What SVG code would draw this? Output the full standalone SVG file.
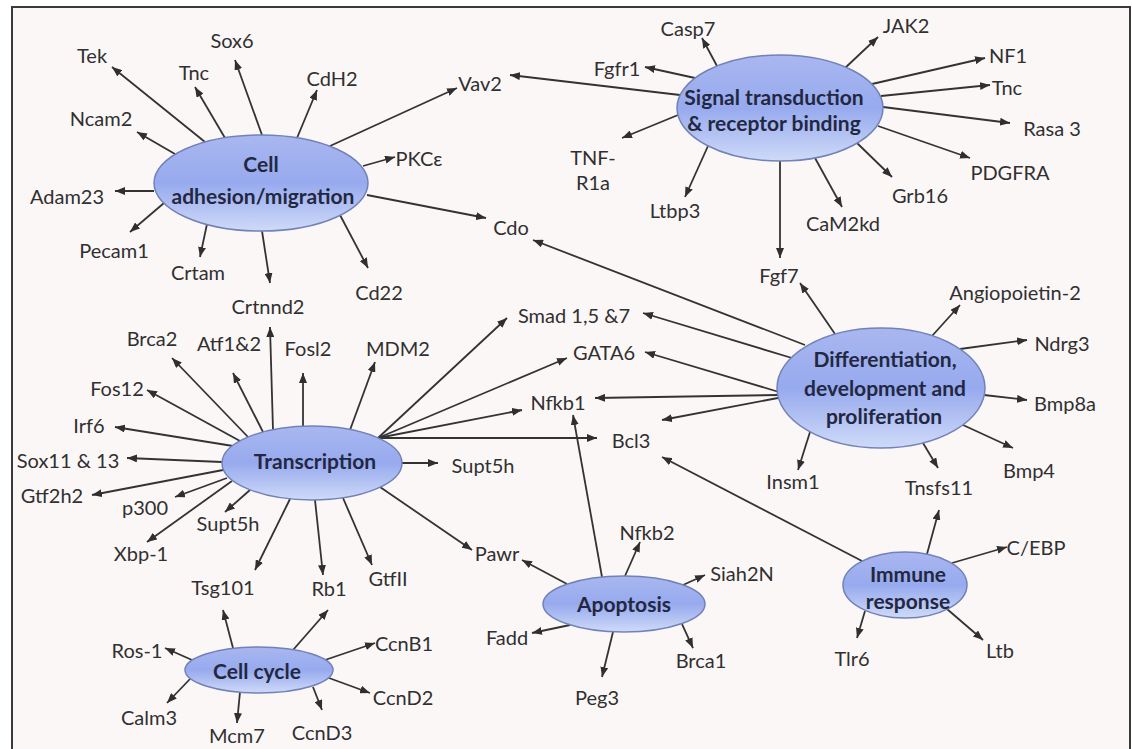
<svg xmlns="http://www.w3.org/2000/svg" width="1132" height="749" viewBox="0 0 1132 749">
<defs>
<linearGradient id="eg" x1="0" y1="0" x2="0" y2="1">
<stop offset="0" stop-color="#a9b7f0"/>
<stop offset="0.5" stop-color="#97aaee"/>
<stop offset="1" stop-color="#cfdaf8"/>
</linearGradient>
<marker id="ah" viewBox="0 0 10 8" refX="10" refY="4" markerWidth="10" markerHeight="8" markerUnits="userSpaceOnUse" orient="auto">
<path d="M0,0 L10,4 L0,8 z" fill="#2f2f2f"/>
</marker>
<style>
.e{fill:url(#eg);stroke:#7282b8;stroke-width:1.5}
.t{font-family:Lato,"Liberation Sans",sans-serif;font-size:20px;fill:#303030;text-anchor:middle;dominant-baseline:central}
.b{font-family:Lato,"Liberation Sans",sans-serif;font-size:21px;font-weight:bold;fill:#232842;text-anchor:middle;dominant-baseline:central}
#conn line{stroke:#333;stroke-width:1.8;marker-end:url(#ah)}
</style>
</defs>
<rect x="0" y="0" width="1132" height="749" fill="#ffffff"/>
<rect x="12" y="7" width="1118" height="760" fill="#fcf7f7" stroke="#3a3a3a" stroke-width="2"/>

<g id="conn">
<!-- Cell adhesion -->
<line x1="205" y1="142" x2="112" y2="67"/>
<line x1="225" y1="138" x2="195" y2="87"/>
<line x1="262" y1="135" x2="235" y2="60"/>
<line x1="297" y1="138" x2="317" y2="90"/>
<line x1="330" y1="146" x2="457" y2="88"/>
<line x1="363" y1="166" x2="395" y2="157"/>
<line x1="175" y1="154" x2="137" y2="132"/>
<line x1="154" y1="191" x2="115" y2="191"/>
<line x1="164" y1="203" x2="130" y2="232"/>
<line x1="207" y1="224" x2="200" y2="257"/>
<line x1="262" y1="231" x2="270" y2="283"/>
<line x1="340" y1="215" x2="368" y2="268"/>
<line x1="367" y1="195" x2="486" y2="218"/>
<!-- Signal transduction -->
<line x1="717" y1="66" x2="702" y2="38"/>
<line x1="695" y1="78" x2="645" y2="67"/>
<line x1="680" y1="95" x2="510" y2="75"/>
<line x1="678" y1="115" x2="622" y2="138"/>
<line x1="708" y1="146" x2="685" y2="197"/>
<line x1="780" y1="161" x2="780" y2="258"/>
<line x1="845" y1="68" x2="878" y2="37"/>
<line x1="872" y1="84" x2="985" y2="58"/>
<line x1="881" y1="96" x2="990" y2="85"/>
<line x1="883" y1="107" x2="1010" y2="123"/>
<line x1="878" y1="126" x2="970" y2="158"/>
<line x1="857" y1="143" x2="892" y2="177"/>
<line x1="815" y1="158" x2="842" y2="207"/>
<!-- Differentiation -->
<line x1="835" y1="334" x2="800" y2="283"/>
<line x1="932" y1="336" x2="960" y2="305"/>
<line x1="960" y1="349" x2="1027" y2="340"/>
<line x1="984" y1="395" x2="1027" y2="400"/>
<line x1="963" y1="425" x2="1013" y2="448"/>
<line x1="810" y1="432" x2="798" y2="470"/>
<line x1="923" y1="443" x2="938" y2="468"/>
<line x1="805" y1="345" x2="533" y2="240"/>
<line x1="792" y1="358" x2="643" y2="313"/>
<line x1="779" y1="392" x2="645" y2="352"/>
<line x1="778" y1="395" x2="595" y2="398"/>
<line x1="778" y1="398" x2="662" y2="420"/>
<!-- Transcription -->
<line x1="273" y1="430" x2="270" y2="327"/>
<line x1="248" y1="437" x2="172" y2="358"/>
<line x1="263" y1="432" x2="233" y2="373"/>
<line x1="303" y1="427" x2="303" y2="373"/>
<line x1="350" y1="430" x2="375" y2="362"/>
<line x1="240" y1="441" x2="147" y2="390"/>
<line x1="233" y1="446" x2="115" y2="427"/>
<line x1="222" y1="462" x2="127" y2="458"/>
<line x1="223" y1="470" x2="92" y2="495"/>
<line x1="227" y1="478" x2="175" y2="497"/>
<line x1="232" y1="481" x2="147" y2="542"/>
<line x1="250" y1="490" x2="225" y2="512"/>
<line x1="290" y1="499" x2="255" y2="570"/>
<line x1="315" y1="500" x2="323" y2="575"/>
<line x1="343" y1="498" x2="372" y2="565"/>
<line x1="380" y1="487" x2="472" y2="550"/>
<line x1="402" y1="463" x2="438" y2="463"/>
<line x1="378" y1="438" x2="597" y2="438"/>
<line x1="378" y1="438" x2="522" y2="410"/>
<line x1="378" y1="438" x2="567" y2="358"/>
<line x1="378" y1="438" x2="507" y2="318"/>
<!-- Cell cycle -->
<line x1="233" y1="648" x2="223" y2="610"/>
<line x1="293" y1="650" x2="328" y2="610"/>
<line x1="192" y1="660" x2="165" y2="648"/>
<line x1="325" y1="660" x2="375" y2="643"/>
<line x1="329" y1="678" x2="370" y2="693"/>
<line x1="313" y1="687" x2="322" y2="710"/>
<line x1="240" y1="692" x2="237" y2="723"/>
<line x1="190" y1="679" x2="167" y2="703"/>
<!-- Apoptosis -->
<line x1="602" y1="577" x2="573" y2="415"/>
<line x1="625" y1="576" x2="640" y2="542"/>
<line x1="683" y1="585" x2="705" y2="575"/>
<line x1="567" y1="584" x2="522" y2="560"/>
<line x1="570" y1="625" x2="532" y2="633"/>
<line x1="613" y1="632" x2="602" y2="677"/>
<line x1="682" y1="624" x2="693" y2="648"/>
<!-- Immune -->
<line x1="862" y1="561" x2="662" y2="457"/>
<line x1="927" y1="554" x2="939" y2="510"/>
<line x1="952" y1="563" x2="1007" y2="547"/>
<line x1="865" y1="611" x2="857" y2="638"/>
<line x1="947" y1="609" x2="983" y2="640"/>
</g>

<g id="n-celladhesion"><ellipse class="e" cx="261" cy="183" rx="107" ry="48"/><text class="b" x="261" y="163">Cell</text><text class="b" x="263" y="195">adhesion/migration</text></g>
<g id="n-signal"><ellipse class="e" cx="780" cy="108" rx="103" ry="53"/><text class="b" x="774" y="96">Signal transduction</text><text class="b" x="774" y="122">&amp; receptor binding</text></g>
<g id="n-diff"><ellipse class="e" cx="881" cy="388" rx="104" ry="60"/><text class="b" x="885" y="358">Differentiation,</text><text class="b" x="885" y="387">development and</text><text class="b" x="884" y="415">proliferation</text></g>
<g id="n-transcription"><ellipse class="e" cx="312" cy="463" rx="90" ry="37"/><text class="b" x="315" y="460">Transcription</text></g>
<g id="n-cellcycle"><ellipse class="e" cx="259" cy="670" rx="74" ry="23"/><text class="b" x="257" y="670">Cell cycle</text></g>
<g id="n-apoptosis"><ellipse class="e" cx="624" cy="604" rx="81" ry="28"/><text class="b" x="624" y="603">Apoptosis</text></g>
<g id="n-immune"><ellipse class="e" cx="905" cy="585" rx="62" ry="33"/><text class="b" x="908" y="573">Immune</text><text class="b" x="908" y="600">response</text></g>

<g id="n-tek"><text class="t" x="92" y="55">Tek</text></g>
<g id="n-sox6"><text class="t" x="232" y="40">Sox6</text></g>
<g id="n-tnc1"><text class="t" x="194" y="72">Tnc</text></g>
<g id="n-cdh2"><text class="t" x="332" y="78">CdH2</text></g>
<g id="n-ncam2"><text class="t" x="101" y="118">Ncam2</text></g>
<g id="n-adam23"><text class="t" x="67" y="196">Adam23</text></g>
<g id="n-pecam1"><text class="t" x="114" y="250">Pecam1</text></g>
<g id="n-pkce"><text class="t" x="419" y="158">PKCε</text></g>
<g id="n-vav2"><text class="t" x="480" y="83">Vav2</text></g>
<g id="n-cdo"><text class="t" x="511" y="227">Cdo</text></g>
<g id="n-crtam"><text class="t" x="198" y="272">Crtam</text></g>
<g id="n-crtnnd2"><text class="t" x="268" y="306">Crtnnd2</text></g>
<g id="n-cd22"><text class="t" x="379" y="292">Cd22</text></g>

<g id="n-casp7"><text class="t" x="688" y="28">Casp7</text></g>
<g id="n-fgfr1"><text class="t" x="617" y="68">Fgfr1</text></g>
<g id="n-tnfr1a"><text class="t" x="593" y="157">TNF-</text><text class="t" x="593" y="182">R1a</text></g>
<g id="n-ltbp3"><text class="t" x="675" y="210">Ltbp3</text></g>
<g id="n-fgf7"><text class="t" x="779" y="275">Fgf7</text></g>
<g id="n-jak2"><text class="t" x="906" y="25">JAK2</text></g>
<g id="n-nf1"><text class="t" x="1008" y="55">NF1</text></g>
<g id="n-tnc2"><text class="t" x="1007" y="87">Tnc</text></g>
<g id="n-rasa3"><text class="t" x="1052" y="128">Rasa 3</text></g>
<g id="n-pdgfra"><text class="t" x="1010" y="172">PDGFRA</text></g>
<g id="n-grb16"><text class="t" x="920" y="195">Grb16</text></g>
<g id="n-cam2kd"><text class="t" x="843" y="223">CaM2kd</text></g>

<g id="n-angpt2"><text class="t" x="1015" y="292">Angiopoietin-2</text></g>
<g id="n-ndrg3"><text class="t" x="1062" y="343">Ndrg3</text></g>
<g id="n-bmp8a"><text class="t" x="1065" y="403">Bmp8a</text></g>
<g id="n-bmp4"><text class="t" x="1029" y="470">Bmp4</text></g>
<g id="n-insm1"><text class="t" x="793" y="481">Insm1</text></g>
<g id="n-tnsfs11"><text class="t" x="939" y="487">Tnsfs11</text></g>

<g id="n-smad"><text class="t" x="574" y="315">Smad 1,5 &amp;7</text></g>
<g id="n-gata6"><text class="t" x="604" y="352">GATA6</text></g>
<g id="n-nfkb1"><text class="t" x="558" y="402">Nfkb1</text></g>
<g id="n-bcl3"><text class="t" x="631" y="440">Bcl3</text></g>

<g id="n-brca2"><text class="t" x="152" y="338">Brca2</text></g>
<g id="n-atf12"><text class="t" x="229" y="343">Atf1&amp;2</text></g>
<g id="n-fosl2"><text class="t" x="308" y="348">Fosl2</text></g>
<g id="n-mdm2"><text class="t" x="398" y="348">MDM2</text></g>
<g id="n-fos12"><text class="t" x="117" y="388">Fos12</text></g>
<g id="n-irf6"><text class="t" x="89" y="425">Irf6</text></g>
<g id="n-sox11"><text class="t" x="68" y="460">Sox11 &amp; 13</text></g>
<g id="n-gtf2h2"><text class="t" x="52" y="495">Gtf2h2</text></g>
<g id="n-p300"><text class="t" x="145" y="507">p300</text></g>
<g id="n-supt5h1"><text class="t" x="228" y="523">Supt5h</text></g>
<g id="n-xbp1"><text class="t" x="141" y="553">Xbp-1</text></g>
<g id="n-tsg101"><text class="t" x="223" y="587">Tsg101</text></g>
<g id="n-rb1"><text class="t" x="329" y="588">Rb1</text></g>
<g id="n-gtfii"><text class="t" x="388" y="578">GtfII</text></g>
<g id="n-supt5h2"><text class="t" x="483" y="465">Supt5h</text></g>
<g id="n-pawr"><text class="t" x="497" y="553">Pawr</text></g>

<g id="n-ros1"><text class="t" x="137" y="650">Ros-1</text></g>
<g id="n-ccnb1"><text class="t" x="404" y="643">CcnB1</text></g>
<g id="n-ccnd2"><text class="t" x="403" y="697">CcnD2</text></g>
<g id="n-ccnd3"><text class="t" x="322" y="732">CcnD3</text></g>
<g id="n-mcm7"><text class="t" x="237" y="735">Mcm7</text></g>
<g id="n-calm3"><text class="t" x="149" y="717">Calm3</text></g>

<g id="n-nfkb2"><text class="t" x="647" y="532">Nfkb2</text></g>
<g id="n-siah2n"><text class="t" x="742" y="573">Siah2N</text></g>
<g id="n-fadd"><text class="t" x="507" y="637">Fadd</text></g>
<g id="n-peg3"><text class="t" x="597" y="697">Peg3</text></g>
<g id="n-brca1"><text class="t" x="701" y="660">Brca1</text></g>

<g id="n-cebp"><text class="t" x="1036" y="547">C/EBP</text></g>
<g id="n-tlr6"><text class="t" x="852" y="658">Tlr6</text></g>
<g id="n-ltb"><text class="t" x="1000" y="650">Ltb</text></g>
</svg>
